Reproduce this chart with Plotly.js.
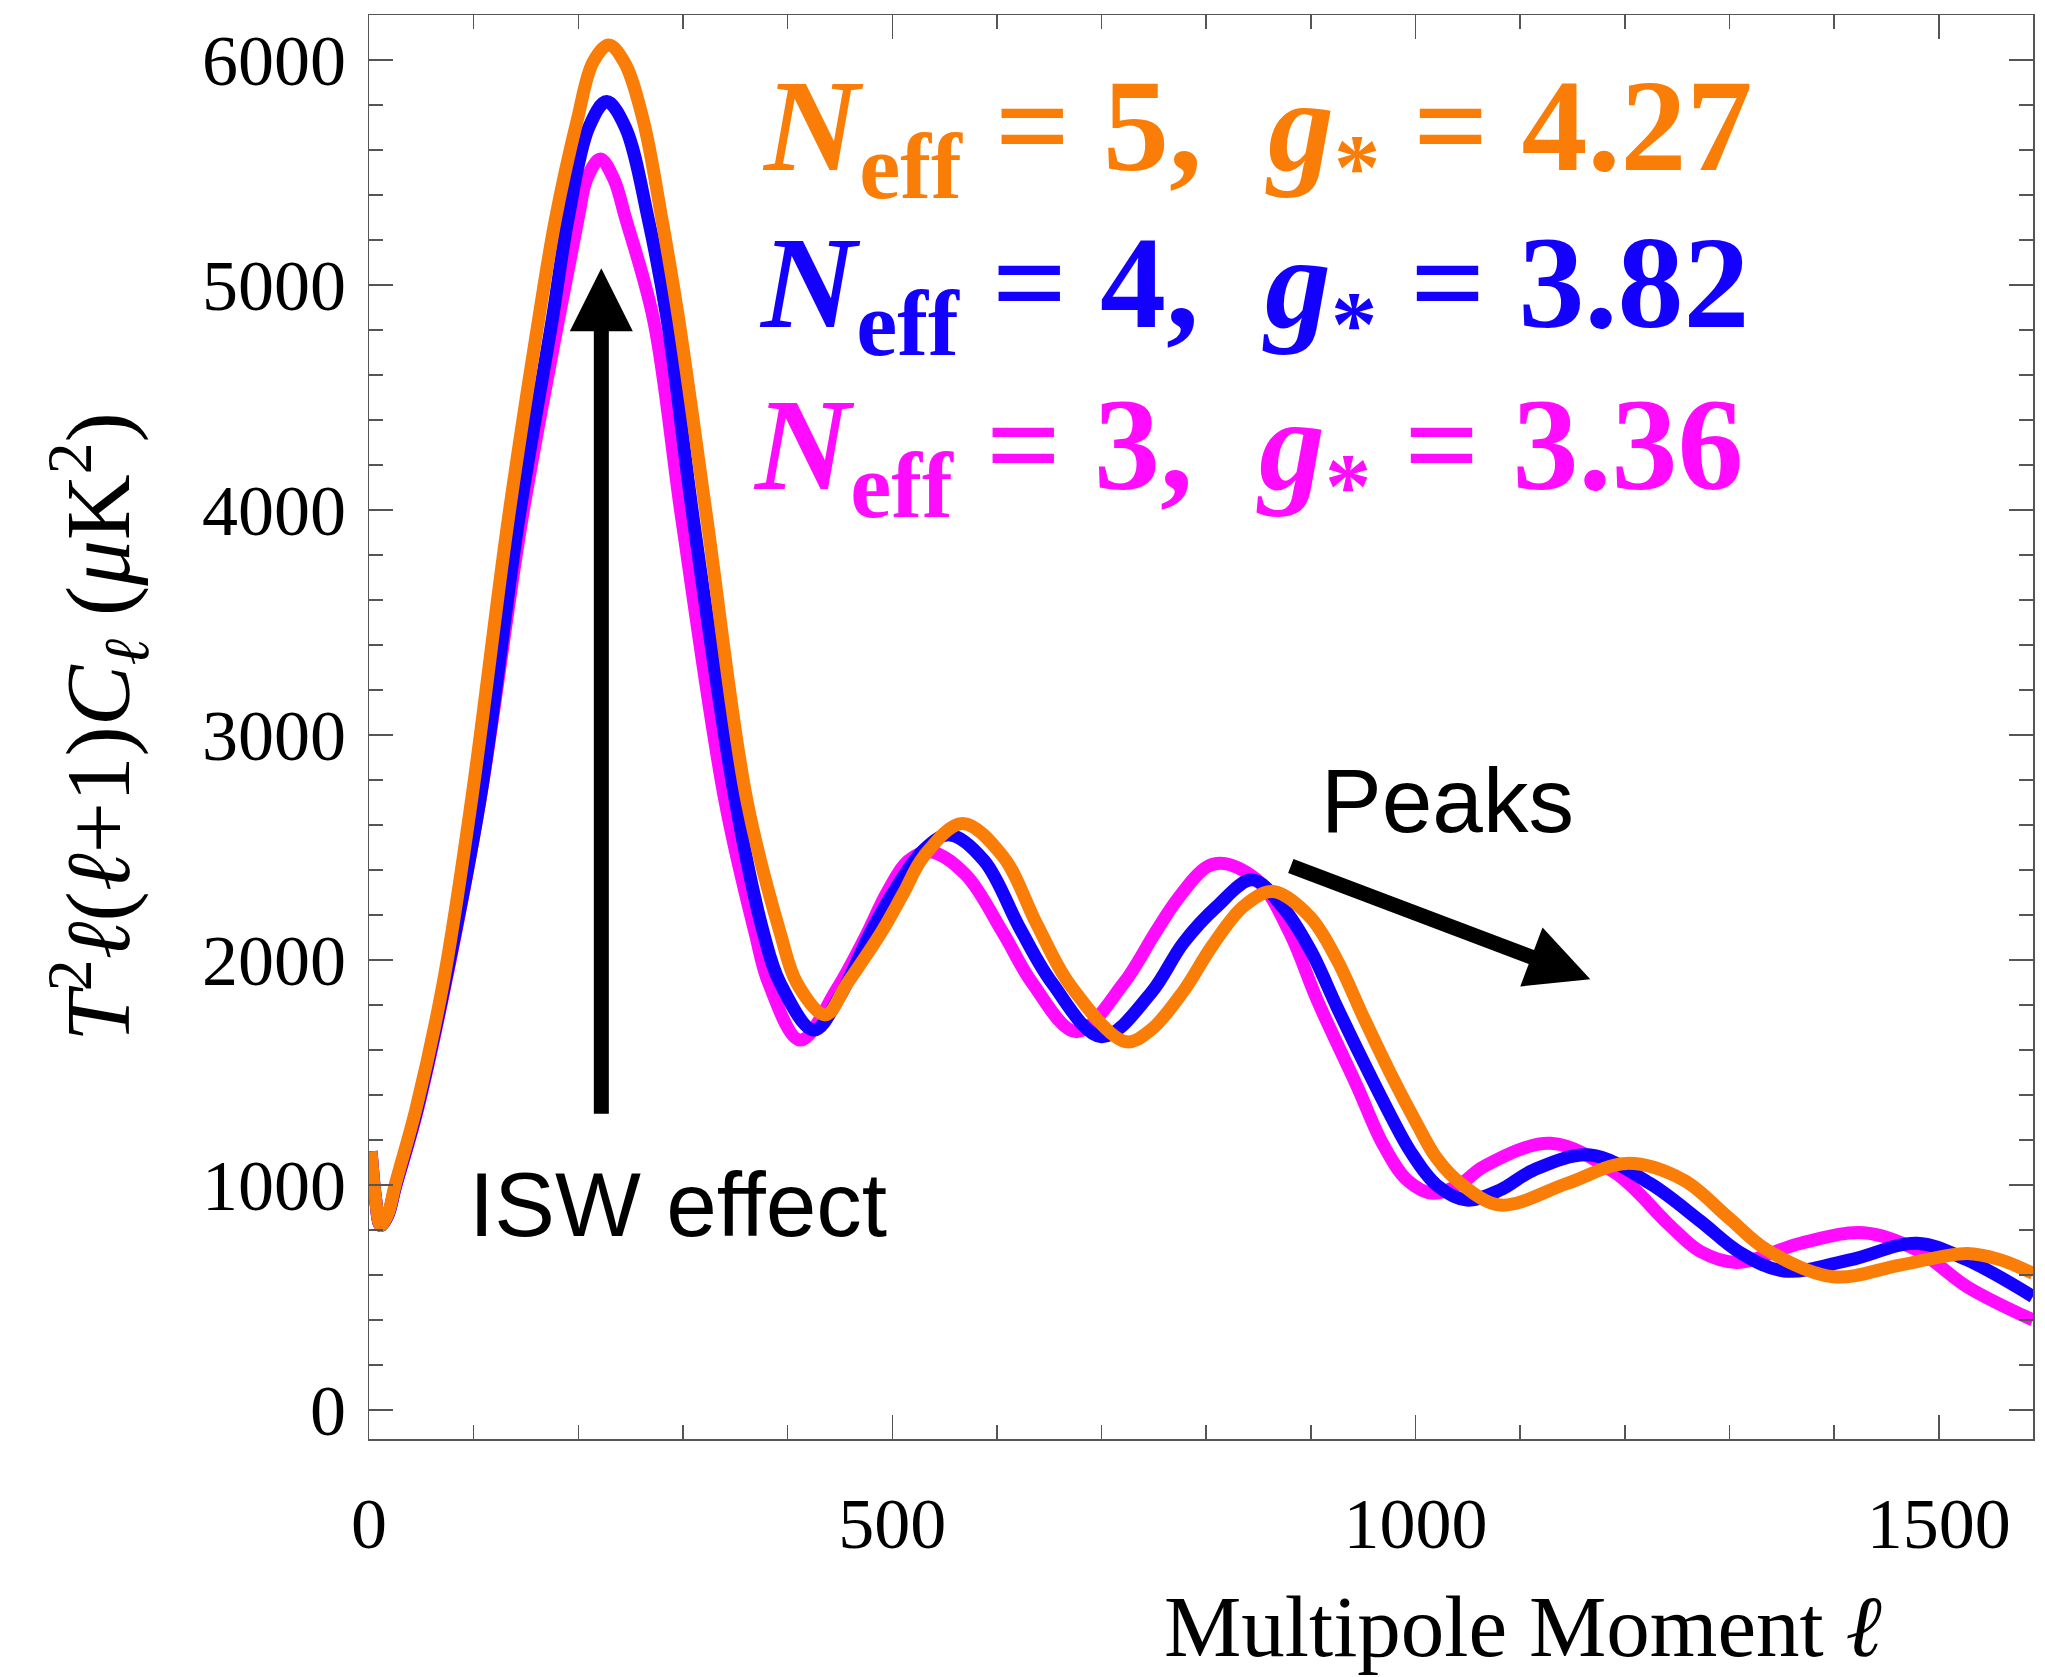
<!DOCTYPE html>
<html>
<head>
<meta charset="utf-8">
<script src="https://cdn.plot.ly/plotly-3.0.1.min.js"></script>
<style>
  html, body { margin: 0; padding: 0; background: white; }
  #chart { width: 2045px; height: 1677px; }
</style>
</head>
<body>
<div id="chart"></div>
<script>
// ---- Data (multipole l, T^2 l(l+1)C_l in uK^2) ----
const ellN3 = [2, 6, 11, 18, 25, 45, 71, 106, 146, 181, 200, 208, 221, 234, 245, 272, 299, 340, 369, 382, 412, 447, 474, 495, 515, 536, 570, 606, 634, 676, 721, 751, 772, 801, 818, 851, 880, 906, 944, 969, 992, 1017, 1043, 1065, 1129, 1192, 1243, 1272, 1307, 1368, 1428, 1479, 1527, 1590];
const clN3  = [1150, 950, 820, 865, 985, 1310, 1850, 2711, 3956, 4844, 5300, 5470, 5560, 5470, 5300, 4844, 3956, 2711, 2119, 1896, 1644, 1870, 2100, 2300, 2440, 2481, 2380, 2119, 1896, 1681, 1896, 2119, 2267, 2415, 2428, 2345, 2119, 1822, 1440, 1180, 1022, 963, 1005, 1081, 1185, 1050, 820, 705, 656, 741, 788, 711, 548, 400];

const ellN4 = [2, 6, 11, 18, 25, 45, 71, 106, 143, 175, 190, 210, 227, 245, 267, 285, 310, 350, 377, 393, 425, 450, 479, 501, 530, 555, 588, 622, 653, 700, 747, 778, 810, 844, 874, 900, 925, 951, 976, 995, 1020, 1049, 1081, 1113, 1167, 1224, 1272, 1310, 1352, 1415, 1479, 1527, 1590];
const clN4  = [1150, 950, 820, 865, 990, 1320, 1860, 2711, 3956, 4844, 5289, 5700, 5815, 5700, 5289, 4844, 3956, 2711, 2119, 1896, 1689, 1840, 2119, 2300, 2489, 2556, 2440, 2140, 1896, 1659, 1852, 2075, 2237, 2356, 2230, 2040, 1790, 1540, 1310, 1150, 1000, 933, 978, 1067, 1133, 1007, 840, 700, 618, 667, 741, 667, 504];

const ellN5 = [2, 6, 11, 18, 25, 45, 71, 98, 133, 162, 178, 199, 214, 229, 244, 262, 280, 296, 323, 361, 393, 409, 436, 457, 489, 511, 530, 567, 606, 638, 670, 723, 747, 778, 806, 836, 864, 899, 925, 950, 976, 1001, 1020, 1043, 1081, 1145, 1202, 1256, 1298, 1336, 1399, 1463, 1527, 1559, 1590];
const clN5  = [1150, 950, 820, 870, 1000, 1340, 1900, 2711, 3956, 4844, 5289, 5733, 5990, 6067, 5990, 5733, 5289, 4844, 3956, 2711, 2119, 1896, 1756, 1896, 2119, 2300, 2460, 2607, 2459, 2160, 1888, 1637, 1689, 1860, 2065, 2240, 2304, 2192, 2000, 1748, 1496, 1274, 1120, 1007, 911, 1007, 1096, 1022, 859, 711, 592, 644, 696, 667, 607];

const seriesLabels = [
  '<b><i>N</i><sub>eff</sub> = 5,\u00A0\u00A0<i>g</i><sub>*</sub> = 4.27</b>',
  '<b><i>N</i><sub>eff</sub> = 4,\u00A0\u00A0<i>g</i><sub>*</sub> = 3.82</b>',
  '<b><i>N</i><sub>eff</sub> = 3,\u00A0\u00A0<i>g</i><sub>*</sub> = 3.36</b>'
];
const xTickVals = [0, 500, 1000, 1500];
const xTickText = ['0', '500', '1000', '1500'];
const yTickVals = [0, 1000, 2000, 3000, 4000, 5000, 6000];
const yTickText = ['0', '1000', '2000', '3000', '4000', '5000', '6000'];

// ---- Styling ----
const cOrange = '#F97D06';
const cBlue = '#1400FF';
const cMagenta = '#FF0CFF';
const serif = '"Liberation Serif", "Times New Roman", Times, serif';
const sans = '"Liberation Sans", Arial, Helvetica, sans-serif';
const axisCol = '#555555';

function trace(x, y, color, name) {
  return { x: x, y: y, type: 'scatter', mode: 'lines', name: name,
           line: { color: color, width: 13, shape: 'spline', smoothing: 1.0 },
           hoverinfo: 'skip' };
}
const data = [
  trace(ellN3, clN3, cMagenta, 'N_eff = 3'),
  trace(ellN4, clN4, cBlue, 'N_eff = 4'),
  trace(ellN5, clN5, cOrange, 'N_eff = 5')
];

const commonAxis = {
  showgrid: false, zeroline: false, showline: true, linecolor: axisCol, linewidth: 1.5,
  mirror: 'ticks', ticks: 'inside', ticklen: 24, tickwidth: 1.5, tickcolor: axisCol,
  tickmode: 'array', tickfont: { family: serif, size: 72, color: 'black' }
};

const layout = {
  width: 2045, height: 1677,
  margin: { l: 369, r: 12, t: 15, b: 238 },
  paper_bgcolor: 'white', plot_bgcolor: 'white',
  showlegend: false,
  font: { family: serif, color: 'black' },
  xaxis: Object.assign({}, commonAxis, {
    range: [0, 1590], tickvals: xTickVals, ticktext: xTickText,
    ticklabelstandoff: 21,
    minor: { dtick: 100, tick0: 0, ticks: 'inside', ticklen: 14, tickwidth: 1.5, tickcolor: axisCol }
  }),
  yaxis: Object.assign({}, commonAxis, {
    range: [-129, 6200], tickvals: yTickVals, ticktext: yTickText,
    ticklabelstandoff: 7,
    minor: { dtick: 200, tick0: 0, ticks: 'inside', ticklen: 14, tickwidth: 1.5, tickcolor: axisCol },
    title: {
      text: '<i>T</i><sup>2</sup><i>ℓ</i>(<i>ℓ</i>+1)<i>C</i><sub><i>ℓ</i></sub> (<i>μ</i>K<sup>2</sup>)',
      font: { family: serif, size: 91, color: 'black' },
      standoff: 42
    }
  }),
  annotations: [
    { xref: 'paper', yref: 'paper', x: 0.2352, y: 0.9157, xanchor: 'left', yanchor: 'middle',
      text: seriesLabels[0], showarrow: false, font: { family: serif, size: 132, color: cOrange } },
    { xref: 'paper', yref: 'paper', x: 0.2334, y: 0.8055, xanchor: 'left', yanchor: 'middle',
      text: seriesLabels[1], showarrow: false, font: { family: serif, size: 132, color: cBlue } },
    { xref: 'paper', yref: 'paper', x: 0.2298, y: 0.6917, xanchor: 'left', yanchor: 'middle',
      text: seriesLabels[2], showarrow: false, font: { family: serif, size: 132, color: cMagenta } },
    { xref: 'paper', yref: 'paper', x: 0.0588, y: 0.1647, xanchor: 'left', yanchor: 'middle',
      text: 'ISW effect', showarrow: false, font: { family: sans, size: 91, color: 'black' } },
    { xref: 'paper', yref: 'paper', x: 0.5711, y: 0.4487, xanchor: 'left', yanchor: 'middle',
      text: 'Peaks', showarrow: false, font: { family: sans, size: 91, color: 'black' } },
    { xref: 'paper', yref: 'paper', x: 0.4765, y: -0.1320, xanchor: 'left', yanchor: 'middle',
      text: 'Multipole Moment <i>ℓ</i>', showarrow: false, font: { family: serif, size: 87, color: 'black' } },
    // arrows
    { xref: 'x', yref: 'y', x: 222, y: 5074, ax: 0, ay: 847, axref: 'pixel', ayref: 'pixel',
      text: '', showarrow: true, arrowhead: 2, arrowsize: 0.84, arrowwidth: 15, arrowcolor: 'black', standoff: 0 },
    { xref: 'x', yref: 'y', x: 1167, y: 1914, ax: -301, ay: -114, axref: 'pixel', ayref: 'pixel',
      text: '', showarrow: true, arrowhead: 2, arrowsize: 0.84, arrowwidth: 15, arrowcolor: 'black', standoff: 0 }
  ]
};

Plotly.newPlot('chart', data, layout, { staticPlot: true, displayModeBar: false });
</script>
</body>
</html>
